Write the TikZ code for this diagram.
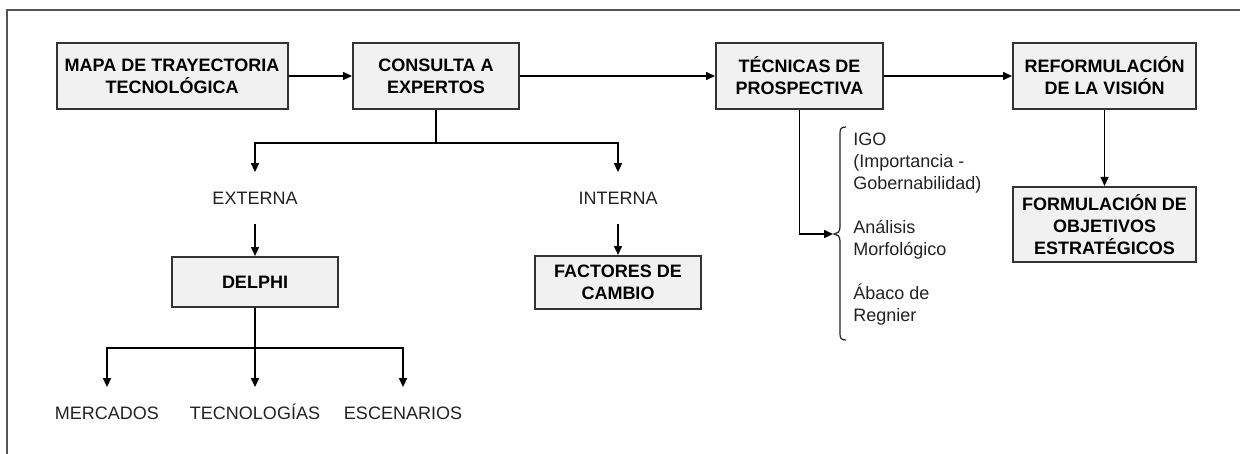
\documentclass[tikz,border=0pt]{standalone}
\usepackage{fontspec}
\setmainfont{Liberation Sans}
\usetikzlibrary{arrows.meta}
\definecolor{boxfill}{HTML}{F1F1F1}
\definecolor{boxline}{HTML}{333333}
\definecolor{txt}{HTML}{222222}
\definecolor{framec}{HTML}{555555}
\tikzset{
  fnt/.style={font=\fontsize{9pt}{11pt}\selectfont},
  box/.style={fnt, draw=boxline, fill=boxfill, line width=1pt, align=center,
    inner sep=0pt, font=\fontsize{9pt}{11pt}\selectfont\bfseries, text=black},
  lbl/.style={fnt, text=txt, text height=6.5pt, text depth=0pt, inner xsep=0pt, inner ysep=9.5pt},
  conn/.style={line width=0.75pt, black},
  arr/.style={conn, -{Triangle[length=4.5pt,width=4pt]}},
}
\begin{document}
\begin{tikzpicture}[x=0.5pt,y=-0.5pt]
\useasboundingbox (0,0) rectangle (1240,454);
\draw[framec, line width=1pt] (7,454) -- (7,10) -- (1240,10);

\node[box, minimum width=115.5pt, minimum height=33pt] (b1) at (172,76) {MAPA DE TRAYECTORIA\\TECNOLÓGICA};
\node[box, minimum width=83pt, minimum height=33pt] (b2) at (436,76) {CONSULTA A\\EXPERTOS};
\node[box, minimum width=83.5pt, minimum height=33pt] (b3) at (799.5,76) {TÉCNICAS DE\\PROSPECTIVA};
\node[box, minimum width=91.5pt, minimum height=33pt] (b4) at (1104.5,76) {REFORMULACIÓN\\DE LA VISIÓN};
\node[box, minimum width=91.5pt, minimum height=37.5pt] (b5) at (1104.5,224.5) {FORMULACIÓN DE\\OBJETIVOS\\ESTRATÉGICOS};
\node[box, minimum width=83pt, minimum height=25pt] (delphi) at (255,282) {DELPHI};
\node[box, minimum width=83pt, minimum height=26.5pt] (fac) at (618,282.5) {FACTORES DE\\CAMBIO};

\node[lbl] (ext) at (255,198) {EXTERNA};
\node[lbl] (int) at (618,198) {INTERNA};
\node[lbl] (merc) at (107,413) {MERCADOS};
\node[lbl] (tec) at (255,413) {TECNOLOGÍAS};
\node[lbl] (esc) at (403,413) {ESCENARIOS};

\node[fnt, text=txt, align=left, inner sep=0pt, anchor=north west] (list) at (853,133)
  {IGO\\(Importancia -\\Gobernabilidad)\\[11pt]Análisis\\Morfológico\\[11pt]Ábaco de\\Regnier};

\draw[arr] (b1) -- (b2);
\draw[arr] (b2) -- (b3);
\draw[arr] (b3) -- (b4);
\draw[arr] (b4) -- (b5);

\coordinate (cj) at (436,143);
\draw[conn] (b2.south) -- (cj);
\draw[arr] (cj) -| (ext.north);
\draw[arr] (cj) -| (int.north);
\draw[arr] (ext.south) -- (delphi.north);
\draw[arr] (int.south) -- (fac.north);

\coordinate (dj) at (255,348);
\draw[conn] (delphi.south) -- (dj);
\draw[arr] (dj) -| (merc.north);
\draw[arr] (dj) -| (esc.north);
\draw[arr] (dj) -- (tec.north);

\coordinate (brtip) at (833,234);
\draw[arr] (b3.south) |- (brtip);
\draw[conn, line width=0.6pt, txt] (846,127) .. controls (841,127) and (840,129) .. (840,133)
  -- (840,227) .. controls (840,232) and (837,234) .. (834,234)
  .. controls (837,234) and (840,236) .. (840,241)
  -- (840,334) .. controls (840,338) and (841,340) .. (846,340);
\end{tikzpicture}
\end{document}
